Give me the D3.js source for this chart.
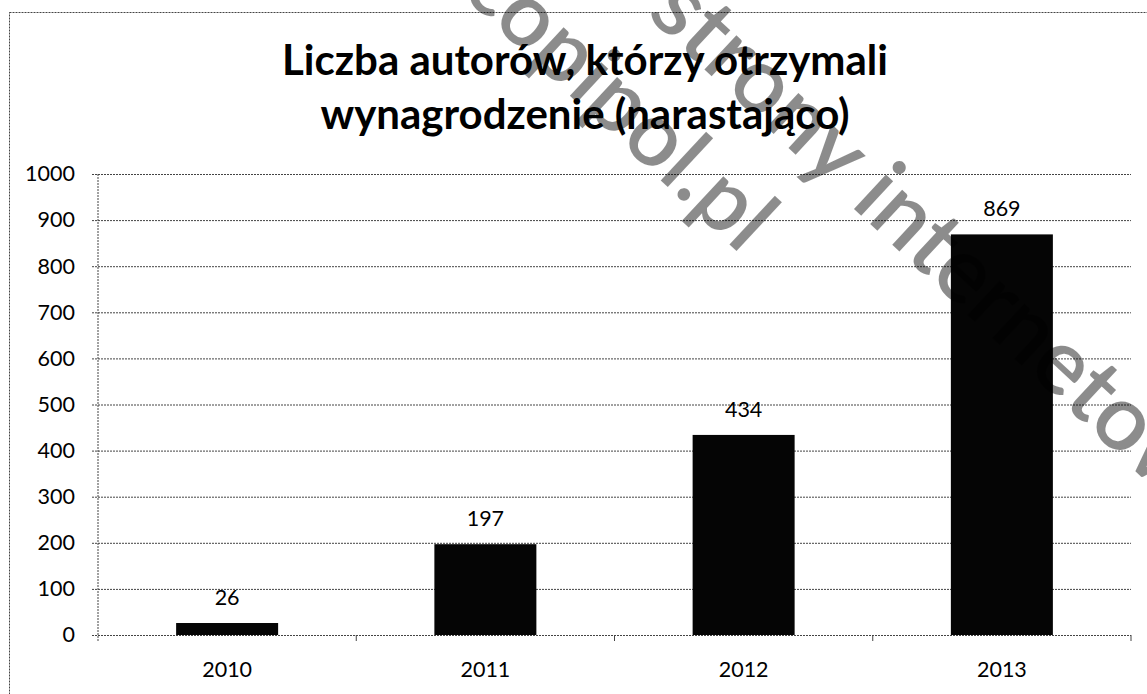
<!DOCTYPE html>
<html>
<head>
<meta charset="utf-8">
<script src="https://cdn.jsdelivr.net/npm/d3@7"></script>
<style>
  body { margin: 0; background: #fff; }
  svg { display: block; }
  text { font-family: Lato, "Open Sans", sans-serif; fill: #000; }
</style>
</head>
<body>
<script>
const years = ['2010', '2011', '2012', '2013'];
const authors = [26, 197, 434, 869];
const yTicks = [0, 100, 200, 300, 400, 500, 600, 700, 800, 900, 1000];
const titleLines = ['Liczba autorów, którzy otrzymali', 'wynagrodzenie (narastająco)'];
const watermarks = ['strony internetowe', 'copipol.pl'];

const W = 1147, H = 694;
const margin = { top: 174, right: 16, bottom: 59, left: 98 };
const width = W - margin.left - margin.right;
const height = H - margin.top - margin.bottom;

const svg = d3.select('body').append('svg')
  .attr('width', W)
  .attr('height', H);

// outer frame of the chart
svg.append('rect')
  .attr('x', 9.5).attr('y', 12.5)
  .attr('width', 1160).attr('height', 720)
  .attr('fill', 'none')
  .attr('stroke', '#444')
  .attr('stroke-dasharray', '2,1');

// title
svg.append('text')
  .attr('text-anchor', 'middle')
  .style('font-weight', 'bold')
  .style('font-size', '42px')
  .selectAll('tspan')
  .data(titleLines)
  .join('tspan')
  .attr('x', 585)
  .attr('y', (d, i) => 75 + i * 54)
  .text(d => d);

const g = svg.append('g')
  .attr('transform', `translate(${margin.left},${margin.top})`);

const xb = d3.scaleBand().domain(years).range([0, width]);
const y = d3.scaleLinear().domain([0, 1000]).range([height, 0]);

// gridlines + y axis
const yAxis = g.append('g')
  .call(d3.axisLeft(y).tickValues(yTicks).tickFormat(d3.format('d')).tickSize(6).tickSizeOuter(0));
yAxis.select('.domain')
  .attr('d', `M0,0V${height + 6}`)
  .attr('stroke', '#444')
  .attr('stroke-dasharray', '2,1');
yAxis.selectAll('.tick line')
  .attr('x2', width)
  .attr('x1', -6)
  .attr('stroke', '#444')
  .attr('stroke-dasharray', '2,1');
yAxis.selectAll('.tick text')
  .style('font-size', '21.5px')
  .attr('x', -23)
  .attr('fill', '#000');

// x axis ticks at category boundaries
const bounds = years.map(d => xb(d)).concat([width]).slice(1);
g.append('g').selectAll('line')
  .data(bounds)
  .join('line')
  .attr('x1', d => d).attr('x2', d => d)
  .attr('y1', height).attr('y2', height + 6)
  .attr('stroke', '#444');

const xAxis = g.append('g')
  .attr('transform', `translate(0,${height})`)
  .call(d3.axisBottom(xb).tickSize(0).tickPadding(27));
xAxis.select('.domain').remove();
xAxis.selectAll('.tick text')
  .style('font-size', '21.5px')
  .attr('fill', '#000');

// bars
g.append('g').selectAll('rect')
  .data(years)
  .join('rect')
  .attr('x', d => xb(d) + xb.bandwidth() / 2 - 51)
  .attr('width', 102)
  .attr('y', (d, i) => y(authors[i]))
  .attr('height', (d, i) => height - y(authors[i]))
  .attr('fill', '#050505');

// value labels
g.append('g').selectAll('text')
  .data(years)
  .join('text')
  .attr('x', d => xb(d) + xb.bandwidth() / 2)
  .attr('y', (d, i) => y(authors[i]) - 18)
  .attr('text-anchor', 'middle')
  .style('font-size', '21.5px')
  .text((d, i) => authors[i]);

// watermark overlay
const wm = svg.append('g')
  .style('font-family', '"Open Sans", sans-serif')
  .style('font-weight', 600)
  .attr('fill', '#606060')
  .attr('fill-opacity', 0.45);
wm.append('text')
  .attr('transform', 'translate(663,-3) rotate(43)')
  .attr('dy', '0.27em')
  .style('font-size', '92px')
  .text(watermarks[0]);
wm.append('text')
  .attr('transform', 'translate(476,-25) rotate(43)')
  .attr('dy', '0.27em')
  .style('font-size', '90px')
  .text(watermarks[1]);
</script>
</body>
</html>
